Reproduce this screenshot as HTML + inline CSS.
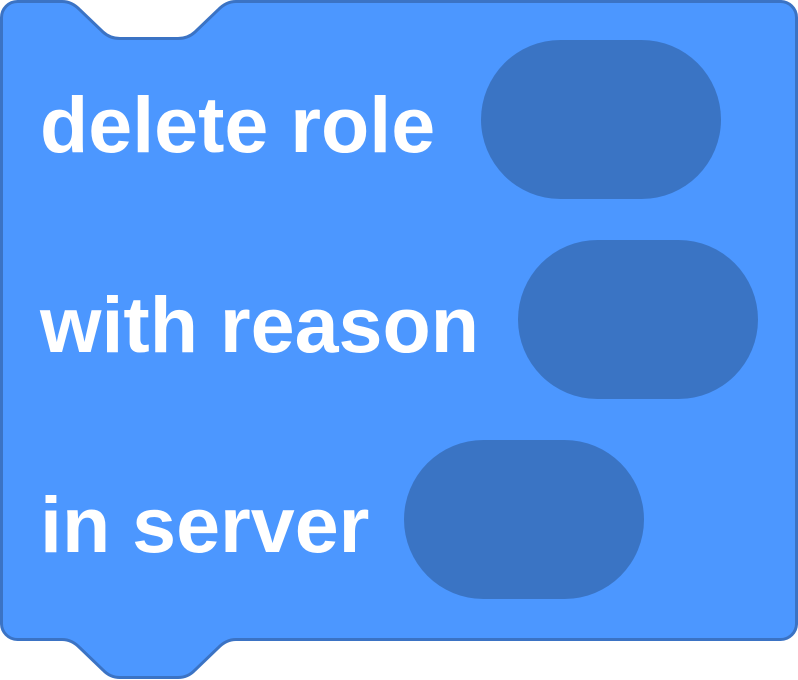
<!DOCTYPE html>
<html><head><style>
html,body{margin:0;padding:0;background:#fff;}
svg{display:block;}
text{font-family:"Liberation Sans",sans-serif;font-weight:bold;font-size:79px;fill:#fff;}
</style></head><body>
<svg width="798" height="680" viewBox="0 0 798 680">
<path d="M1.5,17.5 A16,16 0 0 1 17.5,1.5 H62 Q72,1.5 80,10 L103,32 Q110,38.5 120,38.5 H178 Q188,38.5 195,32 L218,10 Q226,1.5 236,1.5 H780 A16,16 0 0 1 796.5,17.5 V623 A16,16 0 0 1 780,639.5 H236 Q226,639.5 218,648 L195,670 Q188,677.5 178,677.5 H120 Q110,677.5 103,670 L80,648 Q72,639.5 62,639.5 H17.5 A16,16 0 0 1 1.5,623 Z" fill="#4c97ff" stroke="#3b73c4" stroke-width="3"/>
<text x="40" y="152">delete role</text>
<text x="40" y="352">with reason</text>
<text x="40" y="552">in server</text>
<rect x="481" y="40" width="240" height="159" rx="79.5" fill="#3a74c4"/>
<rect x="518" y="240" width="240" height="159" rx="79.5" fill="#3a74c4"/>
<rect x="404" y="440" width="240" height="159" rx="79.5" fill="#3a74c4"/>
</svg>
</body></html>
